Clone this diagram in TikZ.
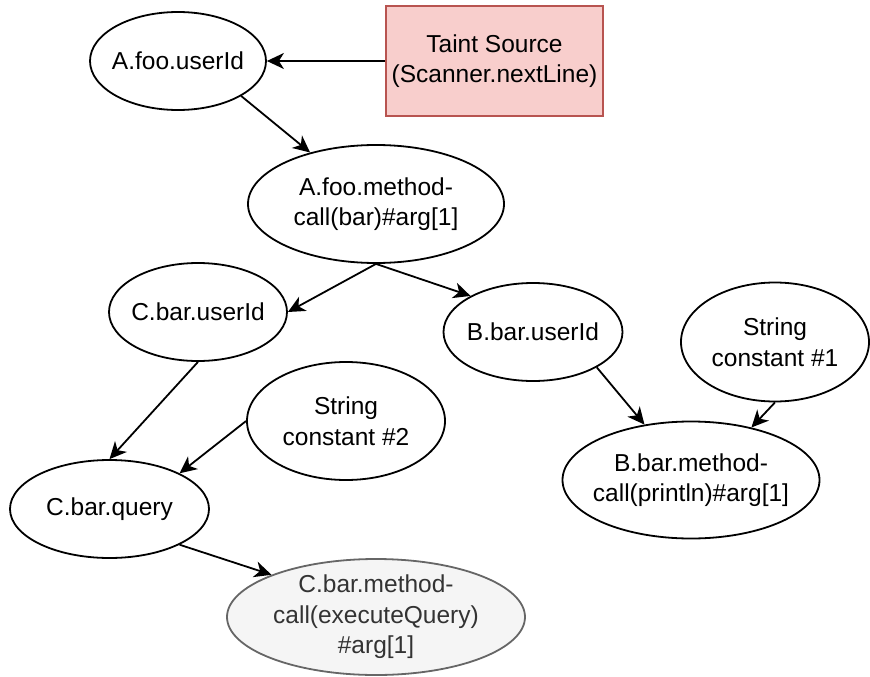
\documentclass[tikz,border=0pt]{standalone}
\usepackage{fontspec}
\setmainfont{Liberation Sans}
\usetikzlibrary{arrows.meta,shapes}

\definecolor{taintfill}{HTML}{F8CECC}
\definecolor{taintline}{HTML}{B85450}
\definecolor{sinkfill}{HTML}{F5F5F5}
\definecolor{sinkline}{HTML}{666666}
\definecolor{sinktext}{HTML}{333333}

\begin{document}
\begin{tikzpicture}[x=1pt,y=-1pt,
            txt/.style={font=\fontsize{24.5}{30.5}\selectfont,align=center,inner sep=0pt},
            var/.style={draw,ellipse,line width=1.8pt,inner sep=0pt,minimum width=178,minimum height=98},
            const/.style={var,minimum width=198,minimum height=118},
            call/.style={var,minimum width=256,minimum height=118},
            source/.style={draw=taintline,fill=taintfill,rectangle,line width=1.8pt,txt,minimum width=217,minimum height=110},
            sink/.style={call,draw=sinkline,fill=sinkfill,minimum width=298,minimum height=116},
            sinktxt/.style={txt,text=sinktext},
            flow/.style={->,line width=1.8pt,>={Stealth[length=17pt,width=16pt,inset=5pt]}}
          ]
          \useasboundingbox (0,0) rectangle (870,677);

          %source
          \node[source] (taint) at (494.5,61) {Taint Source\\(Scanner.nextLine)};
          \node[var,minimum width=176,label={[txt]center:A.foo.userId}] (fooUser) at (178,61) {};
          \node[call,label={[txt]center:{A.foo.method-\\call(bar)\#arg[1]}}] (fooCall) at (376,204) {};

          %class C
          \node[var,label={[txt]center:C.bar.userId}] (cUser) at (198,312) {};
          \node[const,label={[txt]center:{String\\constant \#2}}] (const2) at (346,421) {};
          \node[var,minimum width=199,label={[txt]center:C.bar.query}] (cQuery) at (109.5,509) {};
          \node[sink,label={[sinktxt]center:{C.bar.method-\\call(executeQuery)\\\#arg[1]}}] (exec) at (376,617) {};

          %class B
          \node[var,minimum width=179,label={[txt]center:B.bar.userId}] (bUser) at (533,332) {};
          \node[const,minimum width=188,minimum height=119,label={[txt]center:{String\\constant \#1}}] (const1) at (775,342) {};
          \node[call,minimum width=257,minimum height=117,label={[txt]center:{B.bar.method-\\call(println)\#arg[1]}}] (bCall) at (691,480) {};

          \path[flow]
          (taint) edge (fooUser)
          (fooUser.-29) edge (fooCall.142)
          (fooCall.south) edge (cUser.east)
          (fooCall.south) edge (bUser.150)
          (cUser.south) edge (cQuery.north)
          (const2.west) edge (cQuery.27)
          (cQuery.-27) edge (exec.158)
          (bUser.-29) edge (bCall.130)
          (const1.south) edge (bCall.41)
          ;

      \end{tikzpicture}
\end{document}
